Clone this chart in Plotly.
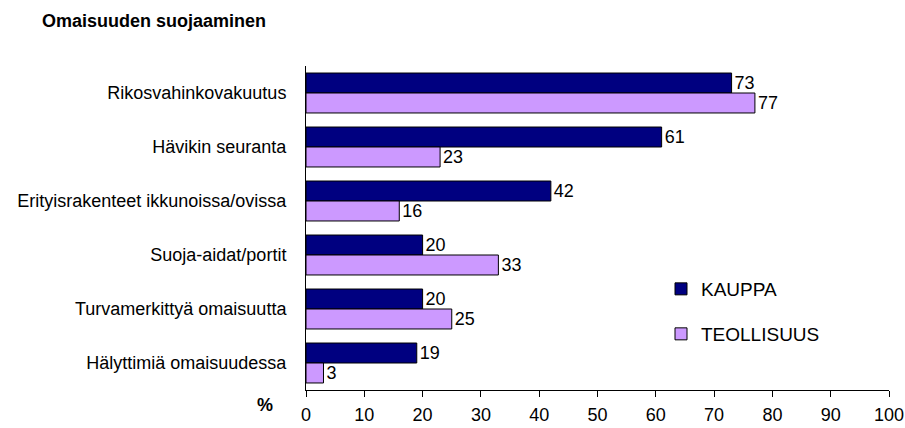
import plotly.graph_objects as go

categories = [
    "Rikosvahinkovakuutus",
    "Hävikin seuranta",
    "Erityisrakenteet ikkunoissa/ovissa",
    "Suoja-aidat/portit",
    "Turvamerkittyä omaisuutta",
    "Hälyttimiä omaisuudessa",
]
kauppa = [73, 61, 42, 20, 20, 19]
teollisuus = [77, 23, 16, 33, 25, 3]
x_ticks = [0, 10, 20, 30, 40, 50, 60, 70, 80, 90, 100]

font_family = "Liberation Sans, Arial, sans-serif"

# plot-area geometry in pixels
W, H = 905, 428
L, R, T, B = 306, 16, 66, 38
PW, PH = W - L - R, H - T - B


def px_x(x):
    return (x - L) / PW


def px_y(y):
    return 1 - (y - T) / PH


fig = go.Figure()
fig.add_trace(go.Bar(
    y=categories, x=kauppa, orientation="h", name="KAUPPA",
    marker=dict(color="#000080", line=dict(color="#000000", width=1)),
    text=kauppa, textposition="outside", cliponaxis=False,
    textfont=dict(size=18, color="#000000"), legend="legend",
))
fig.add_trace(go.Bar(
    y=categories, x=teollisuus, orientation="h", name="TEOLLISUUS",
    marker=dict(color="#CC99FF", line=dict(color="#000000", width=1)),
    text=teollisuus, textposition="outside", cliponaxis=False,
    textfont=dict(size=18, color="#000000"), legend="legend2",
))

legend_style = dict(
    xanchor="left", yanchor="middle", bgcolor="rgba(0,0,0,0)",
    font=dict(size=19, color="#000000"), borderwidth=0,
)

fig.update_layout(
    width=W, height=H,
    margin=dict(l=L, r=R, t=T, b=B, autoexpand=False),
    paper_bgcolor="white", plot_bgcolor="white",
    font=dict(family=font_family, size=18, color="#000000"),
    barmode="group", bargap=0.26, bargroupgap=0,
    showlegend=True,
    legend=dict(x=px_x(661), y=px_y(289), **legend_style),
    legend2=dict(x=px_x(661), y=px_y(334), **legend_style),
    xaxis=dict(
        range=[0, 100], tickvals=x_ticks, showgrid=False, zeroline=False,
        showline=True, linecolor="#000000", linewidth=1, automargin=False,
        ticks="outside", ticklen=6, tickcolor="#000000", tickwidth=1,
        tickfont=dict(size=18), ticklabelstandoff=2,
    ),
    # second x-axis only supplies the upward half of the crossing tick marks
    xaxis2=dict(
        range=[0, 100], tickvals=x_ticks, overlaying="x", anchor="y",
        side="bottom", showgrid=False, zeroline=False, showline=False,
        ticks="inside", ticklen=6, tickcolor="#000000", tickwidth=1,
        showticklabels=False, automargin=False,
    ),
    yaxis=dict(
        autorange="reversed", showgrid=False, zeroline=False,
        showline=True, linecolor="#000000", linewidth=1, automargin=False,
        ticks="", tickfont=dict(size=18), ticklabelstandoff=15,
    ),
    annotations=[
        dict(text="<b>Omaisuuden suojaaminen</b>", xref="paper", yref="paper",
             x=px_x(40), y=px_y(21), xanchor="left", yanchor="middle",
             showarrow=False, font=dict(size=18)),
        dict(text="<b>%</b>", xref="paper", yref="paper",
             x=px_x(265), y=px_y(405), xanchor="center", yanchor="middle",
             showarrow=False, font=dict(size=18)),
    ],
)

fig.write_html("out.html")
